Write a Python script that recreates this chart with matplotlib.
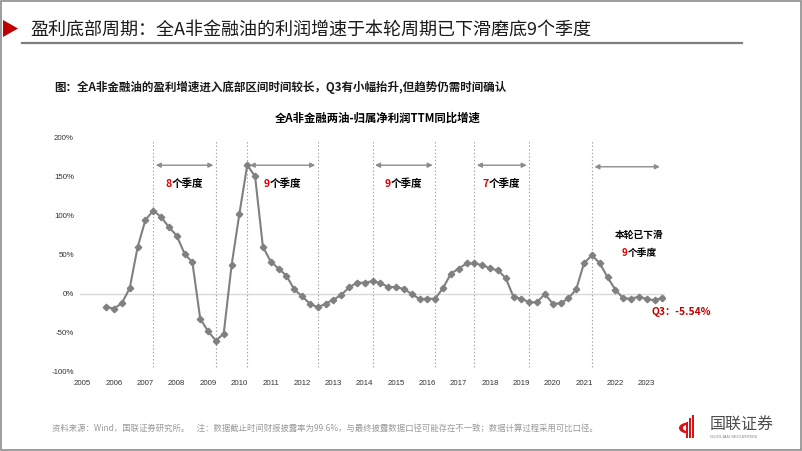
import matplotlib
matplotlib.use('Agg')
import matplotlib.pyplot as plt
import numpy as np
import pandas as pd
from matplotlib.patches import Polygon, Rectangle, Wedge
from matplotlib.lines import Line2D

plt.rcParams['font.family'] = ['Noto Sans CJK SC', 'DejaVu Sans']

# ---------------- data ----------------
start_quarter = '2005Q4'
end_quarter = '2023Q3'
growth_pct = [-17, -19, -12, 7, 59, 94, 106, 98, 85, 74, 51, 40,
              -32, -48, -60, -51, 36, 102, 164, 150, 60, 41, 32, 23,
              5.5, -3.4, -12.8, -17.5, -12.8, -7.7, -1.7, 8, 14, 14, 16, 13.6,
              8.5, 8.5, 6, -0.4, -6.8, -6.4, -6.4, 7.2, 25.5, 32, 38.6, 38.6,
              36.6, 32.3, 29.8, 20, -4.2, -6.4, -11, -11, -0.4, -12.8, -12.4, -6,
              5.5, 39, 49, 39, 21, 5, -6, -6.4, -3.8, -6.8, -8.5, -5.54]
turning_quarters = ['2007Q2', '2009Q2', '2010Q2', '2012Q3', '2014Q2',
                    '2016Q2', '2017Q3', '2019Q2', '2021Q2']
cycle_lengths = ['8', '9', '9', '7']
current_length = '9'
year_labels = list(range(2005, 2024))
y_ticks = [-100, -50, 0, 50, 100, 150, 200]

title = '盈利底部周期：全A非金融油的利润增速于本轮周期已下滑磨底9个季度'
subtitle = '图：全A非金融油的盈利增速进入底部区间时间较长，Q3有小幅抬升,但趋势仍需时间确认'
chart_title = '全A非金融两油-归属净利润TTM同比增速'
footer = ('资料来源：Wind，国联证券研究所。    注：数据截止时间财报披露率为99.6%，'
          '与最终披露数据口径可能存在不一致；数据计算过程采用可比口径。')


def qx(p):
    p = pd.Period(p, freq='Q')
    return p.year + (p.quarter - 1) / 4.0


periods = pd.period_range(start_quarter, end_quarter, freq='Q')
x = np.array([qx(p) for p in periods])
y = np.array(growth_pct)

W, H = 802, 451
fig = plt.figure(figsize=(W / 100, H / 100), dpi=100)
fig.patch.set_facecolor('white')


def fx(px):
    return px / W


def fy(py):
    return 1 - py / H


# axes placement
ax_left, ax_right, ax_top, ax_bottom = 79.6, 665.5, 137, 372
ax = fig.add_axes([fx(ax_left), fy(ax_bottom), fx(ax_right - ax_left), (ax_bottom - ax_top) / H])
ax.set_xlim(2004.9, 2023.6)
ax.set_ylim(-100, 200)
for s in ax.spines.values():
    s.set_visible(False)
ax.set_facecolor('none')

ax.axhline(0, color='#D9D9D9', lw=1.0, zorder=1)

grey = '#808080'
ax.plot(x, y, color=grey, lw=1.5, marker='D', markersize=3.3,
        markerfacecolor=grey, markeredgecolor=grey, zorder=3)

ax.set_xticks(year_labels)
ax.set_xticklabels([str(v) for v in year_labels])
ax.set_yticks(y_ticks)
ax.set_yticklabels([f'{v}%' for v in y_ticks])
ax.tick_params(axis='both', length=0, labelsize=5.7, labelcolor='#333333')
ax.tick_params(axis='x', pad=6)
ax.tick_params(axis='y', pad=4)
for lab in ax.get_xticklabels() + ax.get_yticklabels():
    lab.set_family(['Liberation Sans', 'DejaVu Sans'])

# vertical dotted lines at turning points
tx = [qx(p) for p in turning_quarters]
for xv in tx:
    ax.plot([xv, xv], [-94, 196], color='#A0A0A0', lw=0.8,
            linestyle=(0, (1.2, 2.0)), zorder=2)

arrow_y = 164
arrow_kw = dict(arrowstyle='<|-|>', color='#8C8C8C', lw=1.0,
                mutation_scale=7, shrinkA=0, shrinkB=0)
pairs = [(tx[0], tx[1]), (tx[2], tx[3]), (tx[4], tx[5]), (tx[6], tx[7]), (tx[8], x[-1])]
for i, (a, b) in enumerate(pairs):
    off = 0.08
    ay = arrow_y if i < 4 else arrow_y - 2
    ax.annotate('', xy=(b - off, ay), xytext=(a + off, ay), arrowprops=arrow_kw, zorder=4)

# cycle labels
fs_lab = 7.6
em = fs_lab
for (a, b), n in zip(pairs[:4], cycle_lengths):
    mid = (a + b) / 2
    ax.annotate(n, xy=(mid, 140), xytext=(-1.225 * em, 0), textcoords='offset points',
                ha='right', va='center', color='#E00000', fontsize=fs_lab, fontweight='bold')
    ax.annotate('个季度', xy=(mid, 140), xytext=(-1.225 * em, 0), textcoords='offset points',
                ha='left', va='center', color='black', fontsize=fs_lab, fontweight='bold')

# current cycle label
cx = 2022.76
ax.text(cx, 75, '本轮已下滑', ha='center', va='center', fontsize=7.0,
        fontweight='bold', color='black', style='italic')
ax.annotate(current_length, xy=(cx, 52), xytext=(-1.225 * 7.0, 0), textcoords='offset points',
            ha='right', va='center', color='#E00000', fontsize=7.0, fontweight='bold')
ax.annotate('个季度', xy=(cx, 52), xytext=(-1.225 * 7.0, 0), textcoords='offset points',
            ha='left', va='center', color='black', fontsize=7.0, fontweight='bold')

# last value label
ax.annotate(f'Q3：{growth_pct[-1]:.2f}%', xy=(x[-1], y[-1]), xytext=(-8, -10),
            textcoords='offset points', ha='left', va='center',
            color='#C00000', fontsize=7.4, fontweight='bold')

# ---------------- page decorations ----------------
# frame
fig.add_artist(Rectangle((fx(0.8), fy(449.5)), fx(800.5), (449.5 - 1) / H,
                         transform=fig.transFigure, fill=False,
                         edgecolor='#8C8C8C', lw=1.2))
# red triangle
fig.add_artist(Polygon([[fx(3), fy(20)], [fx(3), fy(37)], [fx(18), fy(28.5)]],
                       closed=True, transform=fig.transFigure,
                       facecolor='#C00000', edgecolor='none'))
# underline
fig.add_artist(Line2D([fx(22), fx(742)], [fy(42.5), fy(42.5)],
                      transform=fig.transFigure, color='#7F7F7F', lw=1.6))

fig.text(fx(30), fy(30), title, ha='left', va='center', fontsize=13.0, color='#1A1A1A')
fig.text(fx(54), fy(87), subtitle, ha='left', va='center', fontsize=8.3,
         fontweight='bold', color='#1A1A1A')
fig.text(fx(378), fy(118), chart_title, ha='center', va='center', fontsize=8.2,
         fontweight='bold', color='black')
fig.text(fx(52), fy(428), footer, ha='left', va='center', fontsize=6.0, color='#999999')

# logo
fig.add_artist(Wedge((fx(689), fy(428)), 0.0125, 110, 250, width=0.005,
                     transform=fig.transFigure, facecolor='#D7141A', edgecolor='none'))
for i, (bx, top) in enumerate([(686, 422), (689, 418), (692, 415)]):
    fig.add_artist(Rectangle((fx(bx), fy(438)), fx(1.6), (438 - top) / H,
                             transform=fig.transFigure, facecolor='#D7141A',
                             edgecolor='none'))
fig.text(fx(710), fy(425.5), '国联证券', ha='left', va='center', fontsize=11.5,
         color='#4D4D4D')
fig.text(fx(710), fy(437.5), 'GUOLIAN SECURITIES', ha='left', va='center', fontsize=3.2,
         color='#7F7F7F', family=['Liberation Sans', 'DejaVu Sans'])

fig.savefig('out.png', dpi=100, facecolor='white')
